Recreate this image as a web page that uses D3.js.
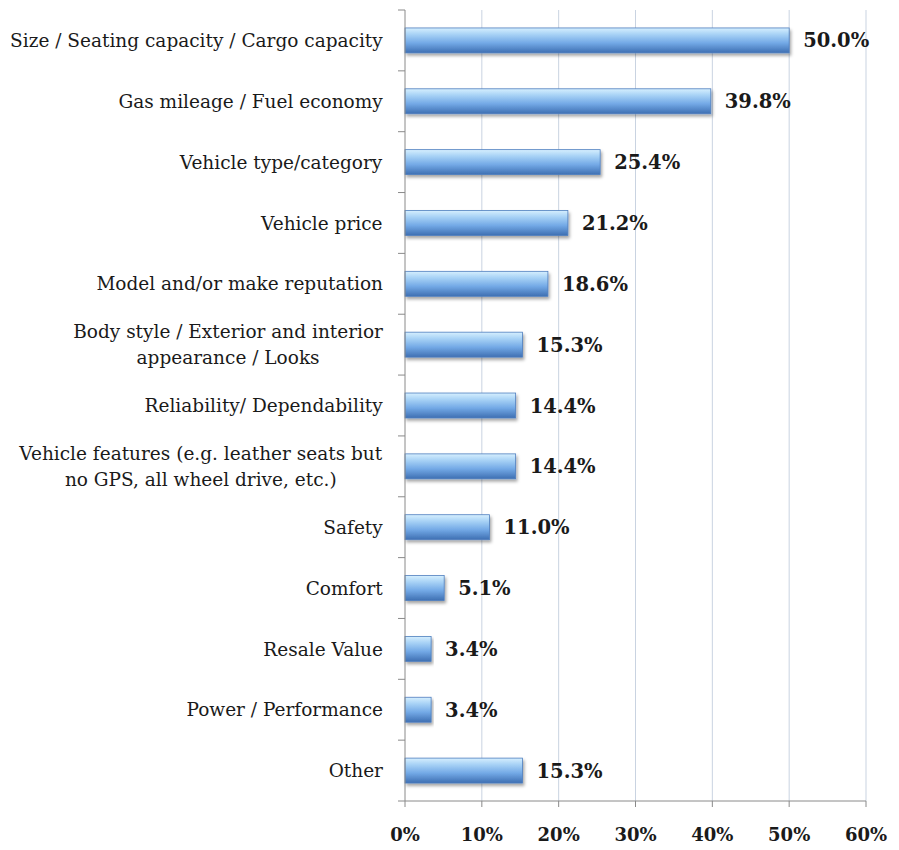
<!DOCTYPE html>
<html lang="en">
<head>
  <meta charset="UTF-8">
  <script src="https://d3js.org/d3.v7.min.js"></script>
  <style>
    body { margin: 0; background: #fff; }
  </style>
</head>
<body>
  <svg id="chart" width="899" height="850"></svg>
  <script>
    // data
    const categories = [
      ["Size / Seating capacity / Cargo capacity"],
      ["Gas mileage / Fuel economy"],
      ["Vehicle type/category"],
      ["Vehicle price"],
      ["Model and/or make reputation"],
      ["Body style / Exterior and interior", "appearance / Looks"],
      ["Reliability/ Dependability"],
      ["Vehicle features (e.g. leather seats but", "no GPS, all wheel drive, etc.)"],
      ["Safety"],
      ["Comfort"],
      ["Resale Value"],
      ["Power / Performance"],
      ["Other"]
    ];
    const values = [50.0, 39.8, 25.4, 21.2, 18.6, 15.3, 14.4, 14.4, 11.0, 5.1, 3.4, 3.4, 15.3];
    const xTicks = [0, 10, 20, 30, 40, 50, 60];

    const svg = d3.select("#chart");
    const margins = { top: 10, right: 33, bottom: 49, left: 405 };
    const width = +svg.attr("width") - margins.left - margins.right;
    const height = +svg.attr("height") - margins.top - margins.bottom;
    const font = "'DejaVu Serif', serif";

    const defs = svg.append("defs");
    const grad = defs.append("linearGradient")
      .attr("id", "barGrad").attr("x1", 0).attr("y1", 0).attr("x2", 0).attr("y2", 1);
    grad.append("stop").attr("offset", "0%").attr("stop-color", "#d6effe");
    grad.append("stop").attr("offset", "25%").attr("stop-color", "#a9d3f6");
    grad.append("stop").attr("offset", "60%").attr("stop-color", "#73a9e6");
    grad.append("stop").attr("offset", "100%").attr("stop-color", "#3e6fb2");
    defs.append("filter").attr("id", "shadow")
      .attr("x", "-5%").attr("y", "-30%").attr("width", "115%").attr("height", "180%")
      .append("feDropShadow")
      .attr("dx", 1.5).attr("dy", 2.5).attr("stdDeviation", 1.8)
      .attr("flood-color", "#000").attr("flood-opacity", 0.35);

    const g = svg.append("g")
      .attr("transform", "translate(" + margins.left + "," + margins.top + ")");

    const x = d3.scaleLinear().domain([0, 60]).range([0, width]);
    const y = d3.scaleBand().domain(d3.range(categories.length)).range([0, height])
      .paddingInner(0.59).paddingOuter(0.295);
    const yEdge = d3.scaleLinear().domain([0, categories.length]).range([0, height]);

    // gridlines
    g.selectAll("line.grid").data(xTicks.slice(1))
      .join("line")
      .attr("class", "grid")
      .attr("x1", d => x(d)).attr("x2", d => x(d))
      .attr("y1", 0).attr("y2", height)
      .attr("stroke", "#c9d3e1").attr("stroke-width", 1);

    // bars
    g.selectAll("rect.bar").data(values)
      .join("rect")
      .attr("class", "bar")
      .attr("x", 0)
      .attr("y", (d, i) => y(i))
      .attr("width", d => x(d))
      .attr("height", y.bandwidth())
      .attr("fill", "url(#barGrad)")
      .attr("stroke", "#4f7fbf").attr("stroke-width", 0.8)
      .attr("filter", "url(#shadow)");

    // value labels
    g.selectAll("text.val").data(values)
      .join("text")
      .attr("class", "val")
      .attr("x", d => x(d) + 14)
      .attr("y", (d, i) => y(i) + y.bandwidth() / 2)
      .attr("dy", "0.36em")
      .attr("font-family", font).attr("font-weight", "bold").attr("font-size", 19.5)
      .attr("fill", "#1a1a1a")
      .text(d => d.toFixed(1) + "%");

    // left axis
    g.append("line").attr("x1", 0).attr("x2", 0).attr("y1", 0).attr("y2", height)
      .attr("stroke", "#8a8a8a");
    g.selectAll("line.ytick").data(d3.range(categories.length + 1))
      .join("line")
      .attr("class", "ytick")
      .attr("x1", -7).attr("x2", 0)
      .attr("y1", d => yEdge(d)).attr("y2", d => yEdge(d))
      .attr("stroke", "#8a8a8a");

    // bottom axis
    g.append("line").attr("x1", 0).attr("x2", width).attr("y1", height).attr("y2", height)
      .attr("stroke", "#8a8a8a");
    g.selectAll("line.xtick").data(xTicks)
      .join("line")
      .attr("class", "xtick")
      .attr("x1", d => x(d)).attr("x2", d => x(d))
      .attr("y1", height).attr("y2", height + 6)
      .attr("stroke", "#8a8a8a");
    g.selectAll("text.xlab").data(xTicks)
      .join("text")
      .attr("class", "xlab")
      .attr("x", d => x(d))
      .attr("y", height + 40)
      .attr("text-anchor", "middle")
      .attr("font-family", font).attr("font-weight", "bold").attr("font-size", 18)
      .attr("fill", "#1a1a1a")
      .text(d => d + "%");

    // category labels (multi-line blocks centred, right edge at axis)
    const labelRight = -22;
    const lineH = 26;
    categories.forEach((lines, i) => {
      const cy = y(i) + y.bandwidth() / 2;
      const t = g.append("text")
        .attr("font-family", font).attr("font-size", 18.5)
        .attr("fill", "#1a1a1a");
      lines.forEach((ln, j) => {
        t.append("tspan")
          .attr("x", 0)
          .attr("y", cy + (j - (lines.length - 1) / 2) * lineH)
          .attr("dy", "0.36em")
          .attr("text-anchor", "middle")
          .text(ln);
      });
      const bb = t.node().getBBox();
      const cx = labelRight - bb.width / 2;
      t.selectAll("tspan").attr("x", cx);
    });
  </script>
</body>
</html>
